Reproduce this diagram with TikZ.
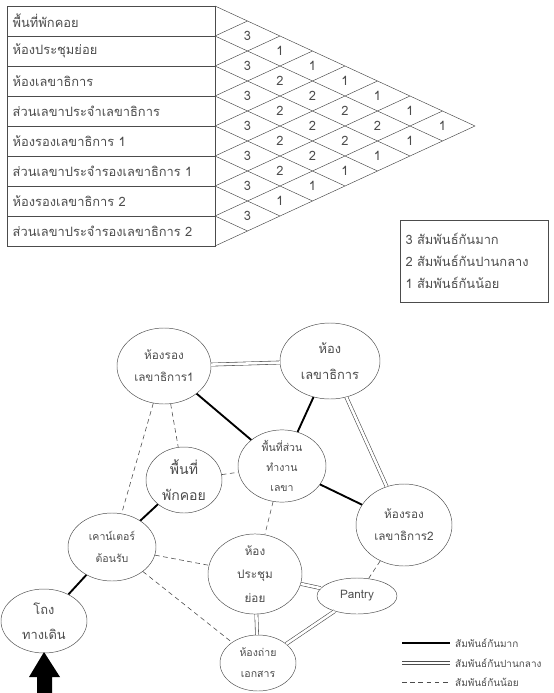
\documentclass[tikz,border=0pt]{standalone}
\usepackage{fontspec}
\setmainfont{Loma}[Script=Thai]
\usetikzlibrary{shapes.geometric}
\definecolor{ink}{gray}{0.3}
\tikzset{rowbox/.style={draw=ink, minimum height=0.9cm, text width=5.9cm, inner xsep=0.17cm, inner ysep=0pt, align=left, text=ink, font=\fontsize{11}{13}\selectfont},
	num/.style={text=ink, inner sep=0pt, font=\fontsize{11}{13}\selectfont},
	room/.style={draw=ink, ellipse, inner sep=0pt, align=center, text=ink, font=\fontsize{10}{19}\selectfont},
	strong/.style={line width=1.6pt},
	medium/.style={draw=ink, double, double distance=2.2pt, line width=0.5pt},
	weak/.style={draw=ink, dash pattern=on 4pt off 3pt, line width=0.5pt},
	keytext/.style={anchor=west, text=ink, inner xsep=0pt, font=\fontsize{8.5}{11}\selectfont}}

\begin{document}
\begin{tikzpicture}[x=0.03cm, y=-0.03cm]
	\useasboundingbox (0,0) rectangle (553,693);
	% relation chart
	\foreach \t [count=\i] in {พื้นที่พักคอย, ห้องประชุมย่อย, ห้องเลขาธิการ, ส่วนเลขาประจำเลขาธิการ, ห้องรองเลขาธิการ 1, ส่วนเลขาประจำรองเลขาธิการ 1, ห้องรองเลขาธิการ 2, ส่วนเลขาประจำรองเลขาธิการ 2}
		\node[rowbox] (row\i) at (111,{30*\i-9}) {\t};
	\foreach \k in {0,...,8}{
		\draw[ink] (215,{6+30*\k}) -- ++({(8-\k)*32.5},{(8-\k)*15});
		\draw[ink] (215,{6+30*\k}) -- ++({\k*32.5},{-\k*15});
	}
	\foreach \v [count=\i] in {3,3,3,3,3,3,3} \node[num] (a\i) at ({215+1*32.5},{30*\i-9+15}) {\v};
	\foreach \v [count=\i] in {1,2,2,2,2,1} \node[num] (b\i) at ({215+2*32.5},{30*\i-9+30}) {\v};
	\foreach \v [count=\i] in {1,2,2,2,1} \node[num] (c\i) at ({215+3*32.5},{30*\i-9+45}) {\v};
	\foreach \v [count=\i] in {1,2,2,1} \node[num] (d\i) at ({215+4*32.5},{30*\i-9+60}) {\v};
	\foreach \v [count=\i] in {1,2,1} \node[num] (e\i) at ({215+5*32.5},{30*\i-9+75}) {\v};
	\foreach \v [count=\i] in {1,1} \node[num] (f\i) at ({215+6*32.5},{30*\i-9+90}) {\v};
	\node[num] (g1) at ({215+7*32.5},{21+105}) {1};
	\node[draw=ink, text=ink, minimum width=4.44cm, minimum height=2.46cm, text width=4.1cm, align=left, font=\fontsize{11}{19}\selectfont] (key) at (474,261)
		{3 สัมพันธ์กันมาก\\2 สัมพันธ์กันปานกลาง\\1 สัมพันธ์กันน้อย};

	% bubble diagram
	\node[room, minimum width=2.82cm, minimum height=2.28cm] (rs1) at (164,366) {ห้องรอง\\เลขาธิการ1};
	\node[room, minimum width=3.0cm, minimum height=2.28cm, font=\fontsize{11}{22}\selectfont] (sec) at (330,361) {ห้อง\\เลขาธิการ};
	\node[room, minimum width=2.28cm, minimum height=1.98cm, font=\fontsize{12}{22}\selectfont] (rest) at (184,480) {พื้นที่\\พักคอย};
	\node[room, minimum width=2.64cm, minimum height=2.04cm, font=\fontsize{9}{17}\selectfont] (work) at (282,466) {พื้นที่ส่วน\\ทำงาน\\เลขา};
	\node[room, minimum width=2.88cm, minimum height=2.46cm] (rs2) at (404,525) {ห้องรอง\\เลขาธิการ2};
	\node[room, minimum width=2.64cm, minimum height=2.04cm, font=\fontsize{9}{19}\selectfont] (desk) at (112,547) {เคาน์เตอร์\\ต้อนรับ};
	\node[room, minimum width=2.82cm, minimum height=2.34cm, font=\fontsize{10}{20}\selectfont] (meet) at (255,574) {ห้อง\\ประชุม\\ย่อย};
	\node[room, minimum width=2.4cm, minimum height=1.08cm] (pantry) at (357,596) {Pantry};
	\node[room, minimum width=2.28cm, minimum height=1.68cm, font=\fontsize{9}{18}\selectfont] (copy) at (258,663) {ห้องถ่าย\\เอกสาร};
	\node[room, minimum width=2.58cm, minimum height=1.92cm, font=\fontsize{11}{21}\selectfont] (hall) at (44,621) {โถง\\ทางเดิน};

	\draw[medium] (rs1) -- (sec);
	\draw[strong] (rs1) -- (work);
	\draw[weak] (rs1) -- (rest);
	\draw[weak] (rs1) -- (desk);
	\draw[strong] (sec) -- (work);
	\draw[medium] (sec) -- (rs2);
	\draw[weak] (rest) -- (work);
	\draw[strong] (rest) -- (desk);
	\draw[strong] (work) -- (rs2);
	\draw[weak] (work) -- (meet);
	\draw[weak] (desk) -- (meet);
	\draw[weak] (desk) -- (copy);
	\draw[strong] (desk) -- (hall);
	\draw[medium] (meet) -- (pantry);
	\draw[medium] (meet) -- (copy);
	\draw[medium] (pantry) -- (copy);
	\draw[weak] (pantry) -- (rs2);

	% way in
	\coordinate (entry) at (44,652);
	\fill (entry) -- ++(16,25) -- ++(-8,0) -- ++(0,16) -- ++(-15,0) -- ++(0,-16) -- ++(-8,0) -- cycle;

	% line key
	\coordinate (k1a) at (402,643); \coordinate (k1b) at (450,643);
	\coordinate (k2a) at (402,663); \coordinate (k2b) at (450,663);
	\coordinate (k3a) at (402,682); \coordinate (k3b) at (450,682);
	\draw[strong] (k1a) -- (k1b);
	\draw[medium] (k2a) -- (k2b);
	\draw[weak] (k3a) -- (k3b);
	\node[keytext] (k1) at (455,643) {สัมพันธ์กันมาก};
	\node[keytext] (k2) at (455,663) {สัมพันธ์กันปานกลาง};
	\node[keytext] (k3) at (455,682) {สัมพันธ์กันน้อย};
\end{tikzpicture}
\end{document}
